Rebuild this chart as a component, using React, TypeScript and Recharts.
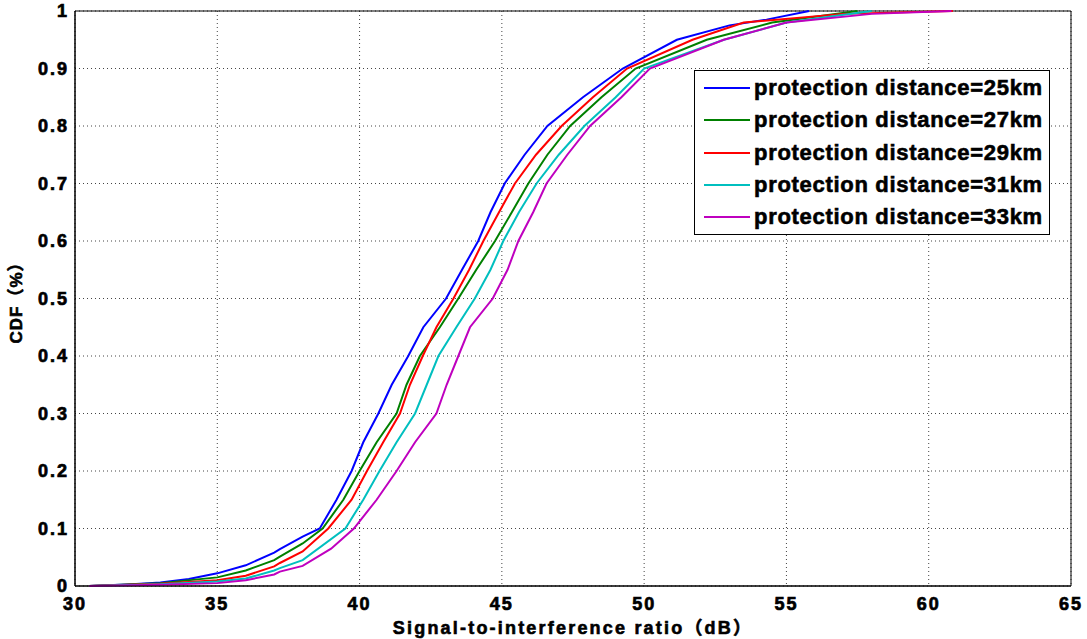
import { CartesianGrid, Line, LineChart, ReferenceArea, XAxis, YAxis } from 'recharts';

// SIR (dB) / CDF readings for each protection distance
const sir25 = [30.5, 32, 33, 34, 35, 36, 37, 37.2, 38, 38.6, 39.19, 39.72, 40.13, 40.66, 41.13, 41.71, 42.24, 43.04, 43.6, 44.17, 44.6, 45.1, 45.8, 46.6, 47.85, 49.25, 51.15, 53, 54.3, 55.8];
const cdf25 = [0, 0.003, 0.006, 0.012, 0.022, 0.036, 0.058, 0.064, 0.086, 0.1, 0.15, 0.2, 0.25, 0.3, 0.35, 0.4, 0.45, 0.5, 0.55, 0.6, 0.65, 0.7, 0.75, 0.8, 0.85, 0.9, 0.95, 0.975, 0.985, 1];

const sir27 = [30.5, 33, 35, 36, 37, 37.2, 38, 38.7, 39.43, 40, 40.6, 41.3, 41.65, 42.12, 42.82, 43.47, 44.1, 44.76, 45.35, 45.93, 46.6, 47.4, 48.5, 49.7, 52.2, 54.5, 57.5];
const cdf27 = [0, 0.005, 0.015, 0.027, 0.045, 0.051, 0.074, 0.1, 0.15, 0.2, 0.25, 0.3, 0.35, 0.4, 0.45, 0.5, 0.55, 0.6, 0.65, 0.7, 0.75, 0.8, 0.85, 0.9, 0.95, 0.98, 1];

const sir29 = [30.5, 33, 35, 36, 37, 37.2, 38, 38.9, 39.72, 40.26, 40.83, 41.42, 41.77, 42.22, 42.7, 43.3, 43.85, 44.35, 44.9, 45.46, 46.2, 47.1, 48.2, 49.4, 51.7, 53.5, 57, 60.85];
const cdf29 = [0, 0.004, 0.01, 0.018, 0.034, 0.04, 0.06, 0.1, 0.15, 0.2, 0.25, 0.3, 0.35, 0.4, 0.45, 0.5, 0.55, 0.6, 0.65, 0.7, 0.75, 0.8, 0.85, 0.9, 0.95, 0.98, 0.995, 1];

const sir31 = [30.5, 33, 35, 36, 37, 37.2, 38, 39.5, 40.13, 40.7, 41.3, 41.95, 42.36, 42.77, 43.4, 44.05, 44.6, 45.05, 45.6, 46.22, 47, 47.9, 49, 50, 52.8, 55, 58];
const cdf31 = [0, 0.003, 0.008, 0.013, 0.027, 0.031, 0.045, 0.1, 0.15, 0.2, 0.25, 0.3, 0.35, 0.4, 0.45, 0.5, 0.55, 0.6, 0.65, 0.7, 0.75, 0.8, 0.85, 0.9, 0.95, 0.98, 1];

const sir33 = [30.5, 33, 35, 36, 37, 37.2, 38, 39, 39.8, 40.6, 41.3, 41.95, 42.7, 43.06, 43.47, 43.88, 44.68, 45.2, 45.58, 46.1, 46.57, 47.3, 48.1, 49.2, 50.2, 52.8, 55, 58, 60.8];
const cdf33 = [0, 0.002, 0.005, 0.01, 0.02, 0.025, 0.035, 0.065, 0.1, 0.15, 0.2, 0.25, 0.3, 0.35, 0.4, 0.45, 0.5, 0.55, 0.6, 0.65, 0.7, 0.75, 0.8, 0.85, 0.9, 0.95, 0.98, 0.995, 1];

const xTicks = [30, 35, 40, 45, 50, 55, 60, 65];
const yTicks = [0, 0.1, 0.2, 0.3, 0.4, 0.5, 0.6, 0.7, 0.8, 0.9, 1];

const series = [
  { name: 'protection distance=25km', color: '#0000ff', sir: sir25, cdf: cdf25 },
  { name: 'protection distance=27km', color: '#008000', sir: sir27, cdf: cdf27 },
  { name: 'protection distance=29km', color: '#ff0000', sir: sir29, cdf: cdf29 },
  { name: 'protection distance=31km', color: '#00bfbf', sir: sir31, cdf: cdf31 },
  { name: 'protection distance=33km', color: '#bf00bf', sir: sir33, cdf: cdf33 },
];

const font = '"Liberation Sans", Arial, "Noto Sans CJK SC", sans-serif';

function LegendBox() {
  return (
    <div
      style={{
        position: 'absolute',
        left: 694,
        top: 70,
        border: '1px solid #000',
        background: '#fff',
        width: 356,
        padding: '1px 0',
        boxSizing: 'border-box',
        fontFamily: font,
      }}
    >
      {series.map((s) => (
        <div key={s.name} style={{ display: 'flex', alignItems: 'center', height: 32.3 }}>
          <div style={{ width: 46, height: 2, background: s.color, marginLeft: 9, marginRight: 4 }} />
          <span
            style={{
              fontSize: 22,
              fontWeight: 'bold',
              letterSpacing: 0.7,
              color: '#000',
              whiteSpace: 'nowrap',
              WebkitTextStroke: '0.6px #000',
            }}
          >
            {s.name}
          </span>
        </div>
      ))}
    </div>
  );
}

export default function App() {
  return (
    <div style={{ position: 'absolute', left: 0, top: 0, width: 1087, height: 639, background: '#fff' }}>
      <LineChart width={1087} height={639} margin={{ top: 11, right: 16, bottom: 0, left: 0 }}>
        <CartesianGrid stroke="#444" strokeDasharray="1 3" />
        <XAxis
          type="number"
          dataKey="x"
          domain={[30, 65]}
          ticks={xTicks}
          height={53}
          tickLine={false}
          axisLine={{ stroke: '#000' }}
          tickMargin={5}
          tick={{ fill: '#000', stroke: '#000', strokeWidth: 0.7, fontSize: 18, fontWeight: 'bold', fontFamily: font, letterSpacing: 2 }}
          allowDuplicatedCategory={false}
          label={{
            value: 'Signal-to-interference ratio（dB）',
            position: 'insideBottom',
            offset: 5,
            fill: '#000',
            stroke: '#000',
            strokeWidth: 0.6,
            fontSize: 18,
            fontWeight: 'bold',
            fontFamily: font,
            letterSpacing: 2.2,
          }}
        />
        <YAxis
          type="number"
          dataKey="y"
          domain={[0, 1]}
          ticks={yTicks}
          width={75}
          tickLine={false}
          axisLine={{ stroke: '#000' }}
          tickMargin={0}
          tick={{ fill: '#000', stroke: '#000', strokeWidth: 0.7, fontSize: 18, fontWeight: 'bold', fontFamily: font, letterSpacing: 2 }}
          label={{
            value: 'CDF（%）',
            angle: -90,
            position: 'insideLeft',
            offset: 16,
            fill: '#000',
            stroke: '#000',
            strokeWidth: 0.6,
            fontSize: 17,
            fontWeight: 'bold',
            fontFamily: font,
            letterSpacing: 1,
            style: { textAnchor: 'middle' },
          }}
        />
        <ReferenceArea x1={30} x2={65} y1={0} y2={1} fill="none" stroke="#000" strokeWidth={1} ifOverflow="visible" />
        {series.map((s) => (
          <Line
            key={s.name}
            name={s.name}
            data={s.sir.map((x, i) => ({ x, y: s.cdf[i] }))}
            dataKey="y"
            type="linear"
            stroke={s.color}
            strokeWidth={2}
            dot={false}
            isAnimationActive={false}
          />
        ))}
      </LineChart>
      <LegendBox />
    </div>
  );
}
